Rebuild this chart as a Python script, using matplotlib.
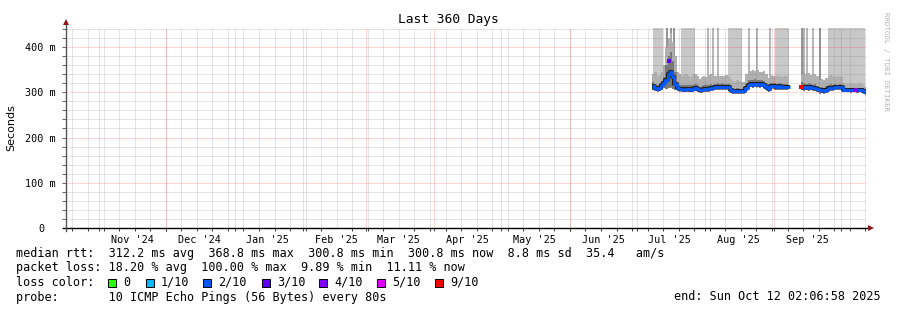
import numpy as np
import pandas as pd
import matplotlib
matplotlib.use("Agg")
import matplotlib.pyplot as plt
import matplotlib.transforms as mtrans
from matplotlib.patches import Rectangle

W, H = 897, 310
nan = np.nan
MONO = "DejaVu Sans Mono"

# ---------------- data ----------------
title = "Last 360 Days"
ylabel = "Seconds"
end_time = pd.Timestamp("2025-10-12 02:06:58")
start_time = end_time - pd.Timedelta(days=360)

days = pd.date_range("2025-07-08", "2025-10-12", freq="D")

# median rtt (ms), one value per day
median_jul = [314, 309, 307, 310, 315, 320, 327, 340, 344, 333, 318, 310, 307, 308, 306, 308,
              307, 306, 308, 309, 307, 304, 305, 307]
median_aug = [308, 307, 309, 310, 311, 312, 311, 312, 311, 311, 312, 306, 303, 302, 303, 302,
              303, 302, 309, 317, 318, 317, 319, 318, 317, 318, 316, 312, 308, 313, 314]
median_sep = [313, 312, 313, 312, 311, 312, 311, nan, nan, nan, nan, nan, 311, 310, 311, 310,
              311, 310, 309, 307, 304, 305, 303, 306, 309, 310, 310, 311, 311, 312]
median_oct = [311, 306, 306, 306, 305, 306, 306, 305, 306, 305, 303, 300]

# smoke: lowest ping, top of dark band, top of light band (ms)
smoke_lo_jul = [306, 302, 301, 303, 306, 309, 308, 310, 312, 308, 306, 303, 301, 302, 300, 301,
                300, 300, 301, 302, 300, 298, 299, 300]
smoke_lo_aug = [301, 300, 302, 303, 304, 305, 304, 305, 304, 304, 305, 299, 297, 296, 297, 296,
                297, 296, 302, 310, 311, 310, 312, 311, 310, 311, 309, 305, 301, 306, 307]
smoke_lo_sep = [306, 305, 306, 305, 304, 305, 304, nan, nan, nan, nan, nan, 304, 303, 304, 303,
                304, 303, 302, 300, 297, 298, 296, 299, 302, 303, 303, 304, 304, 305]
smoke_lo_oct = [304, 300, 300, 300, 299, 300, 300, 299, 300, 299, 297, 294]

smoke_mid_jul = [322, 318, 315, 318, 324, 334, 360, 380, 390, 370, 345, 320, 317, 317, 315, 317,
                 316, 315, 317, 318, 315, 312, 313, 315]
smoke_mid_aug = [315, 316, 318, 317, 318, 320, 319, 320, 318, 319, 319, 313, 309, 308, 309, 308,
                 308, 307, 318, 326, 328, 327, 329, 328, 326, 327, 325, 320, 315, 320, 321]
smoke_mid_sep = [320, 319, 320, 318, 319, 319, 317, nan, nan, nan, nan, nan, 322, 320, 319, 320,
                 318, 317, 318, 314, 310, 311, 309, 313, 317, 318, 317, 318, 317, 319]
smoke_mid_oct = [317, 311, 310, 310, 309, 310, 310, 309, 310, 309, 307, 303]

smoke_hi_jul = [340, 345, 335, 338, 345, 360, 400, 420, 430, 410, 380, 345, 340, 335, 338, 340,
                336, 334, 338, 340, 335, 330, 333, 336]
smoke_hi_aug = [334, 338, 340, 336, 335, 338, 337, 336, 335, 338, 336, 330, 325, 322, 326, 324,
                323, 322, 340, 345, 348, 350, 346, 349, 345, 344, 346, 340, 332, 338, 336]
smoke_hi_sep = [337, 335, 336, 334, 337, 335, 333, nan, nan, nan, nan, nan, 340, 345, 340, 342,
                338, 335, 340, 336, 328, 330, 327, 332, 335, 338, 336, 334, 335, 337]
smoke_hi_oct = [333, 320, 318, 319, 320, 318, 319, 318, 320, 319, 317, 312]

# periods where single pings went off the top of the graph
outlier_start = ["2025-07-08 12:00", "2025-07-20 19:00", "2025-08-11 00:00",
                 "2025-09-01 04:00", "2025-09-25 10:00"]
outlier_end = ["2025-07-13 00:00", "2025-07-27 08:00", "2025-08-17 08:00",
               "2025-09-07 12:00", "2025-10-12 02:06"]
spike_dates = ["2025-07-14 22:00", "2025-07-16 07:00", "2025-07-17 17:00",
               "2025-08-02 02:00", "2025-08-04 08:00", "2025-08-06 14:00",
               "2025-08-20 17:00", "2025-08-24 07:00", "2025-08-30 02:00",
               "2025-09-13 12:00", "2025-09-14 12:00", "2025-09-15 17:00",
               "2025-09-18 10:00", "2025-09-21 10:00"]
spike_dark = [True, True, True, False, False, False, False, False, False,
              True, False, False, False, True]

# median points drawn in another loss colour
mark_dates = ["2025-07-15 18:00", "2025-09-13 06:00", "2025-10-08 00:00"]
mark_ms = [368.8, 311, 305]
mark_level = [3, 6, 4]

loss_labels = ["0", "1/10", "2/10", "3/10", "4/10", "5/10", "9/10"]
loss_colors = ["#26ff00", "#00b8ff", "#0059ff", "#5e00ff", "#7e00ff", "#dd00ff", "#ff0000"]
line_level = 2

ytick_vals = [0, 0.1, 0.2, 0.3, 0.4]
ytick_labels = ["0", "100 m", "200 m", "300 m", "400 m"]

rtt_title = "median rtt:"
rtt_stats = ["312.2 ms avg", "368.8 ms max", "300.8 ms min", "300.8 ms now", "8.8 ms sd",
             "35.4", "am/s"]
loss_title = "packet loss:"
loss_stats = ["18.20 % avg", "100.00 % max", "9.89 % min", "11.11 % now"]
color_title = "loss color:"
probe_title = "probe:"
probe_text = "10 ICMP Echo Pings (56 Bytes) every 80s"
end_text = "end: Sun Oct 12 02:06:58 2025"
credit = "RRDTOOL / TOBI OETIKER"

# ---------------- assemble ----------------
median = np.array(median_jul + median_aug + median_sep + median_oct, float) / 1000
s_lo = np.array(smoke_lo_jul + smoke_lo_aug + smoke_lo_sep + smoke_lo_oct, float) / 1000
s_mid = np.array(smoke_mid_jul + smoke_mid_aug + smoke_mid_sep + smoke_mid_oct, float) / 1000
s_hi = np.array(smoke_hi_jul + smoke_hi_aug + smoke_hi_sep + smoke_hi_oct, float) / 1000
assert len(median) == len(days) == len(s_lo) == len(s_mid) == len(s_hi)

x = list(days) + [end_time]
def ext(a):
    return np.append(a, a[-1])

YTOP = 0.4431

fig = plt.figure(figsize=(W / 100, H / 100), dpi=100)
fig.patch.set_facecolor("white")
ax = fig.add_axes([66 / W, (H - 228) / H, (865.5 - 66) / W, (228 - 27.5) / H])
ax.set_xlim(start_time, end_time)
ax.set_ylim(0, YTOP)
for s in ax.spines.values():
    s.set_visible(False)

# outlier bars and spikes
for a, b in zip(outlier_start, outlier_end):
    ax.fill_between([pd.Timestamp(a), pd.Timestamp(b)], 0.31, YTOP, color="#c8c8c8",
                    lw=0, zorder=1)
for d, dk in zip(spike_dates, spike_dark):
    ax.vlines(pd.Timestamp(d), 0.31, YTOP, color="#8a8a8a" if dk else "#b0b0b0",
              lw=1.3, zorder=1.2)

# smoke
ax.fill_between(x, ext(s_lo), ext(s_hi), step="post", color="#b0b0b0", lw=0, zorder=1.5)
ax.fill_between(x, ext(s_lo), ext(s_mid), step="post", color="#787878", lw=0, zorder=1.6)

# grid (dotted, drawn over the smoke like rrdtool)
months = pd.date_range("2024-11-01", "2025-10-01", freq="MS")
sundays = pd.date_range(start_time.normalize(), end_time, freq="W-SUN")
dot = (0, (1, 1))
minor_col = (0.5, 0.5, 0.5, 0.42)
major_col = (1.0, 0.0, 0.0, 0.33)
for d in sundays:
    ax.axvline(d, color=minor_col, lw=0.72, ls=dot, zorder=3)
for v in np.arange(0.02, YTOP, 0.02):
    if abs(v * 10 - round(v * 10)) > 1e-6:
        ax.axhline(v, color=minor_col, lw=0.72, ls=dot, zorder=3)
for d in months:
    ax.axvline(d, color=major_col, lw=0.72, ls=dot, zorder=3.1)
for v in ytick_vals[1:]:
    ax.axhline(v, color=major_col, lw=0.72, ls=dot, zorder=3.1)

# median line
ax.plot(x, ext(median), drawstyle="steps-post", color="#202020", lw=2.9, zorder=4,
        solid_capstyle="butt")
ax.plot(x, ext(median), drawstyle="steps-post", color=loss_colors[line_level], lw=2.1,
        zorder=4.1, solid_capstyle="butt")
for d, v, lv in zip(mark_dates, mark_ms, mark_level):
    ax.plot([pd.Timestamp(d)], [v / 1000], marker="s", ms=2.3, mew=0,
            color=loss_colors[lv], zorder=4.2)

# ticks
ax.set_yticks(ytick_vals)
ax.set_yticklabels(ytick_labels, family=MONO, fontsize=7.3)
ax.set_yticks([v for v in np.arange(0.02, YTOP, 0.02)], minor=True)
ax.tick_params(axis="y", which="both", direction="out", length=3, width=0.7,
               color="#606060", pad=4.5)
ax.tick_params(axis="y", which="minor", labelleft=False)
lbl0 = ax.yaxis.get_major_ticks()[0].label1
lbl0.set_transform(lbl0.get_transform() + mtrans.ScaledTranslation(-0.11, 0, fig.dpi_scale_trans))

label_dates = [d + pd.Timedelta(days=15) for d in months if d + pd.Timedelta(days=15) < end_time]
ax.set_xticks(label_dates)
ax.set_xticklabels([d.strftime("%b '%y") for d in label_dates], family=MONO, fontsize=7.3)
ax.tick_params(axis="x", which="major", length=0, pad=5)
ax.set_xticks(list(months) + list(sundays), minor=True)
ax.tick_params(axis="x", which="minor", direction="out", length=2.5, width=0.7,
               color="#404040")

# axis lines with arrows
ax.plot([-3.5 / 799.5, 1.0055], [0, 0], color="black", lw=1, transform=ax.transAxes,
        clip_on=False, zorder=6)
ax.plot([1.0075], [0], marker=">", ms=4, color="#8b1a1a", mew=0, transform=ax.transAxes,
        clip_on=False, zorder=7)
ax.plot([0, 0], [-3 / 200.5, 1.02], color="#555555", lw=1, transform=ax.transAxes,
        clip_on=False, zorder=6)
ax.plot([0], [1.028], marker="^", ms=4, color="#8b1a1a", mew=0, transform=ax.transAxes,
        clip_on=False, zorder=7)

# texts
def fx(px):
    return px / W
def fy(py):
    return 1 - py / H

fig.text(fx(448), fy(19.5), title, ha="center", va="center", family=MONO, fontsize=9.3)
fig.text(fx(11), fy(127.5), ylabel, ha="center", va="center", rotation=90,
         family="DejaVu Sans", fontsize=8)
fig.text(fx(886), fy(61), credit, ha="center", va="center", rotation=270,
         family=MONO, fontsize=5.3, color="#b4b4b4")

LEG = 8.5
row1 = rtt_title + "  " + "  ".join(rtt_stats[:6]) + "   " + rtt_stats[6]
row2 = loss_title + " " + "  ".join(loss_stats)
row4 = probe_title.ljust(13) + probe_text
fig.text(fx(16), fy(254), row1, ha="left", va="center", family=MONO, fontsize=LEG)
fig.text(fx(16), fy(268), row2, ha="left", va="center", family=MONO, fontsize=LEG)
fig.text(fx(16), fy(297), row4, ha="left", va="center", family=MONO, fontsize=LEG)

box_x = [108, 146, 203, 262, 319, 377, 435]
fig.text(fx(16), fy(282), color_title, ha="left", va="center", family=MONO, fontsize=LEG)
for px, lab, col in zip(box_x, loss_labels, loss_colors):
    fig.add_artist(Rectangle((fx(px), fy(286.5)), 7.5 / W, 7.5 / H, transform=fig.transFigure,
                             facecolor=col, edgecolor="black", lw=0.7))
    fig.text(fx(px + 15), fy(282), lab, ha="left", va="center", family=MONO, fontsize=LEG)

fig.text(fx(880.5), fy(297), end_text, ha="right", va="center", family=MONO, fontsize=LEG)

fig.savefig("out.png", dpi=100, facecolor="white")
